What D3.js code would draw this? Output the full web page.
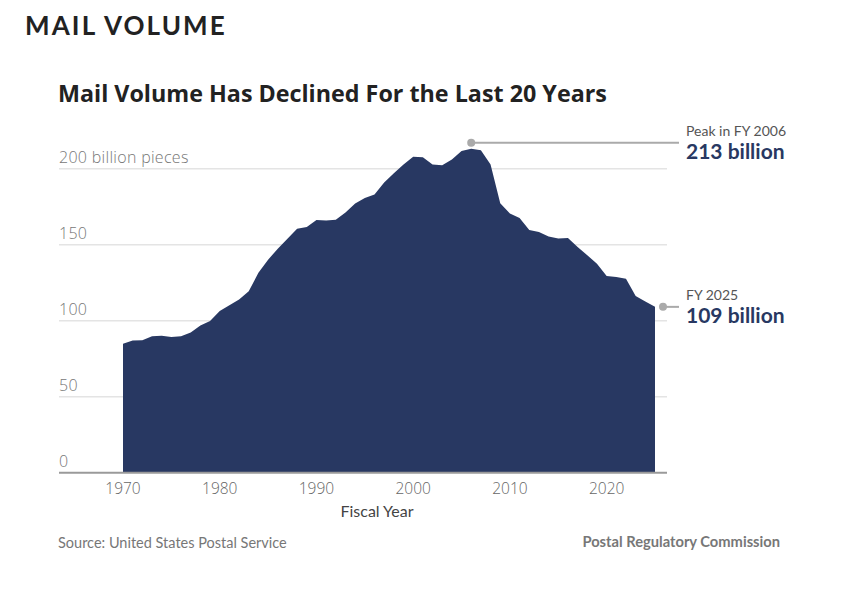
<!DOCTYPE html>
<html>
<head>
<meta charset="utf-8">
<script src="https://cdn.jsdelivr.net/npm/d3@7"></script>
<style>
  body { margin: 0; background: #fff; }
</style>
</head>
<body>
<div id="chart"></div>
<script>
// fiscal years and mail volume, billions of pieces
const years = d3.range(1970, 2026)
const volume = [
  84.9, 87.0, 87.2, 89.7, 90.1, 89.3, 89.8, 92.2, 96.9, 99.8,
  106.3, 110.1, 114.0, 119.4, 131.5, 140.1, 147.4, 153.9, 160.5, 161.6,
  166.3, 165.9, 166.4, 171.2, 177.1, 180.7, 183.0, 190.9, 197.0, 202.8,
  207.9, 207.5, 202.8, 202.2, 206.1, 211.7, 213.1, 212.2, 202.7, 177.3,
  170.6, 167.5, 159.7, 158.4, 155.4, 154.0, 154.4, 148.5, 143.0, 137.5,
  129.4, 128.8, 127.6, 116.2, 112.6, 109.1
]
const yTicks = [0, 50, 100, 150, 200]
const xTicks = [1970, 1980, 1990, 2000, 2010, 2020]

const width = 856
const height = 600
const navy = '#283862'
const sans = '"Open Sans", Lato, sans-serif'

const x = d3.scaleLinear().domain([1970, 2025]).range([123, 655])
const y = d3.scaleLinear().domain([0, 200]).range([472.7, 168.7])
const gridLeft = 59, gridRight = 667

const data = years.map((yr, i) => ({ year: yr, value: volume[i] }))

const svg = d3.select('#chart')
  .append('svg')
  .attr('width', width)
  .attr('height', height)
  .attr('font-family', 'Lato, sans-serif')

svg.append('text')
  .attr('x', 25)
  .attr('y', 35)
  .attr('font-size', 26)
  .attr('font-weight', 700)
  .attr('fill', '#222')
  .attr('letter-spacing', 2.1)
  .text('MAIL VOLUME')

svg.append('text')
  .attr('x', 58)
  .attr('y', 102)
  .attr('font-family', sans)
  .attr('font-size', 23.3)
  .attr('font-weight', 700)
  .attr('fill', '#222')
  .text('Mail Volume Has Declined For the Last 20 Years')

// gridlines
svg.append('g')
  .selectAll('line')
  .data(yTicks.slice(1))
  .join('line')
  .attr('x1', gridLeft)
  .attr('x2', gridRight)
  .attr('y1', d => y(d))
  .attr('y2', d => y(d))
  .attr('stroke', '#e4e4e4')
  .attr('stroke-width', 1.5)

// area
const area = d3.area()
  .x(d => x(d.year))
  .y0(y(0))
  .y1(d => y(d.value))

svg.append('path')
  .datum(data)
  .attr('fill', navy)
  .attr('d', area)

// baseline
svg.append('line')
  .attr('x1', gridLeft)
  .attr('x2', gridRight)
  .attr('y1', y(0))
  .attr('y2', y(0))
  .attr('stroke', '#9a9a9a')
  .attr('stroke-width', 2)

// y labels
svg.append('g')
  .selectAll('text')
  .data(yTicks)
  .join('text')
  .attr('x', gridLeft)
  .attr('y', d => y(d) - 6)
  .attr('font-family', sans)
  .attr('font-size', 16)
  .attr('font-weight', 300)
  .attr('letter-spacing', 0.3)
  .attr('fill', '#777')
  .text(d => d === 200 ? '200 billion pieces' : d)

// x axis labels
svg.append('g')
  .selectAll('text')
  .data(xTicks)
  .join('text')
  .attr('x', d => x(d))
  .attr('y', 494)
  .attr('text-anchor', 'middle')
  .attr('font-family', sans)
  .attr('font-size', 15.5)
  .attr('font-weight', 300)
  .attr('fill', '#666')
  .text(d => d)

svg.append('text')
  .attr('x', 377)
  .attr('y', 517)
  .attr('text-anchor', 'middle')
  .attr('font-size', 16)
  .attr('fill', '#444')
  .text('Fiscal Year')

// annotations
const peak = data[36], last = data[data.length - 1]
const notes = [
  { d: peak, dx: 0, dy: -6, top: 'Peak in FY 2006', big: '213 billion' },
  { d: last, dx: 8, dy: 0, top: 'FY 2025', big: '109 billion' }
]

const note = svg.append('g')
  .selectAll('g')
  .data(notes)
  .join('g')

note.append('line')
  .attr('x1', n => x(n.d.year) + n.dx)
  .attr('x2', 679)
  .attr('y1', n => y(n.d.value) + n.dy)
  .attr('y2', n => y(n.d.value) + n.dy)
  .attr('stroke', '#aaa')
  .attr('stroke-width', 2)

note.append('circle')
  .attr('cx', n => x(n.d.year) + n.dx)
  .attr('cy', n => y(n.d.value) + n.dy)
  .attr('r', 4)
  .attr('fill', '#aaa')

note.append('text')
  .attr('x', 686)
  .attr('y', n => y(n.d.value) + n.dy - 7)
  .attr('font-size', 14)
  .attr('fill', '#555')
  .text(n => n.top)

note.append('text')
  .attr('x', 686)
  .attr('y', n => y(n.d.value) + n.dy + 16)
  .attr('font-size', 21)
  .attr('font-weight', 700)
  .attr('fill', navy)
  .text(n => n.big)

// footer
svg.append('text')
  .attr('x', 58)
  .attr('y', 548)
  .attr('font-size', 14.5)
  .attr('fill', '#777')
  .text('Source: United States Postal Service')

svg.append('text')
  .attr('x', 780)
  .attr('y', 547)
  .attr('text-anchor', 'end')
  .attr('font-size', 14.7)
  .attr('font-weight', 700)
  .attr('fill', '#777')
  .text('Postal Regulatory Commission')
</script>
</body>
</html>
